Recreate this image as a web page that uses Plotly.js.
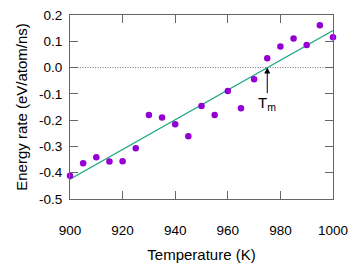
<!DOCTYPE html>
<html>
<head>
<meta charset="utf-8">
<script src="https://cdn.plot.ly/plotly-3.0.1.min.js"></script>
<style>html,body{margin:0;padding:0;background:#fff;}#chart{width:356px;height:267px;}</style>
</head>
<body>
<div id="chart"></div>
<script>
var temps = [900,905,910,915,920,925,930,935,940,945,950,955,960,965,970,975,980,985,990,995,1000];
var rates = [-0.412,-0.364,-0.341,-0.357,-0.356,-0.307,-0.18,-0.19,-0.216,-0.261,-0.146,-0.18,-0.089,-0.155,-0.044,0.035,0.08,0.111,0.086,0.161,0.115];
var fitTemps = [900,1000];
var fitRates = [-0.425,0.141];
var meltT = 975;
var xTickVals = [900,920,940,960,980,1000];
var xTickText = ['900','920','940','960','980','1000'];
var yTickVals = [-0.5,-0.4,-0.3,-0.2,-0.1,0.0,0.1,0.2];
var yTickText = ['-0.5','-0.4','-0.3','-0.2','-0.1','0.0','0.1','0.2'];

var font = 'Liberation Sans, Arial, Helvetica, sans-serif';
var traces = [
  {x: fitTemps, y: fitRates, mode: 'lines', line: {color: '#1fa886', width: 1.3}, hoverinfo: 'skip', cliponaxis: false},
  {x: temps, y: rates, mode: 'markers', marker: {color: '#9400d3', size: 6.5}, cliponaxis: false}
];
var axisCommon = {
  showgrid: false, zeroline: false, showline: true, linecolor: '#666', linewidth: 1,
  mirror: 'ticks', ticks: 'inside', ticklen: 8, tickcolor: '#666', tickwidth: 1,
  tickfont: {family: font, size: 13.5, color: '#000'}
};
var layout = {
  width: 356, height: 267,
  margin: {l: 70, r: 23, t: 15, b: 68},
  paper_bgcolor: '#fff', plot_bgcolor: '#fff',
  showlegend: false,
  font: {family: font, color: '#000'},
  xaxis: Object.assign({}, axisCommon, {
    range: [900, 1000], tickmode: 'array', tickvals: xTickVals, ticktext: xTickText,
    ticklabelstandoff: 19,
    title: {text: 'Temperature (K)', font: {family: font, size: 15, color: '#000'}, standoff: 12}
  }),
  yaxis: Object.assign({}, axisCommon, {
    range: [-0.5, 0.2], tickmode: 'array', tickvals: yTickVals, ticktext: yTickText,
    ticklabelstandoff: 4,
    title: {text: 'Energy rate (eV/atom/ns)', font: {family: font, size: 15, color: '#000'}, standoff: 7}
  }),
  shapes: [
    {type: 'line', xref: 'paper', yref: 'y', x0: 0, x1: 1, y0: 0, y1: 0,
     line: {color: '#333', width: 0.7, dash: '1px,1.5px'}, layer: 'below'}
  ],
  annotations: [
    {x: meltT, y: 0, xref: 'x', yref: 'y', ax: meltT, ay: -0.103, axref: 'x', ayref: 'y',
     text: '', showarrow: true, arrowhead: 2, arrowsize: 1.2, arrowwidth: 1, arrowcolor: '#000'},
    {x: meltT, y: -0.136, xref: 'x', yref: 'y', text: 'T<sub>m</sub>', showarrow: false,
     font: {family: font, size: 15, color: '#000'}, xanchor: 'center', yanchor: 'middle'}
  ]
};
Plotly.newPlot('chart', traces, layout, {staticPlot: true, displayModeBar: false});
</script>
</body>
</html>
